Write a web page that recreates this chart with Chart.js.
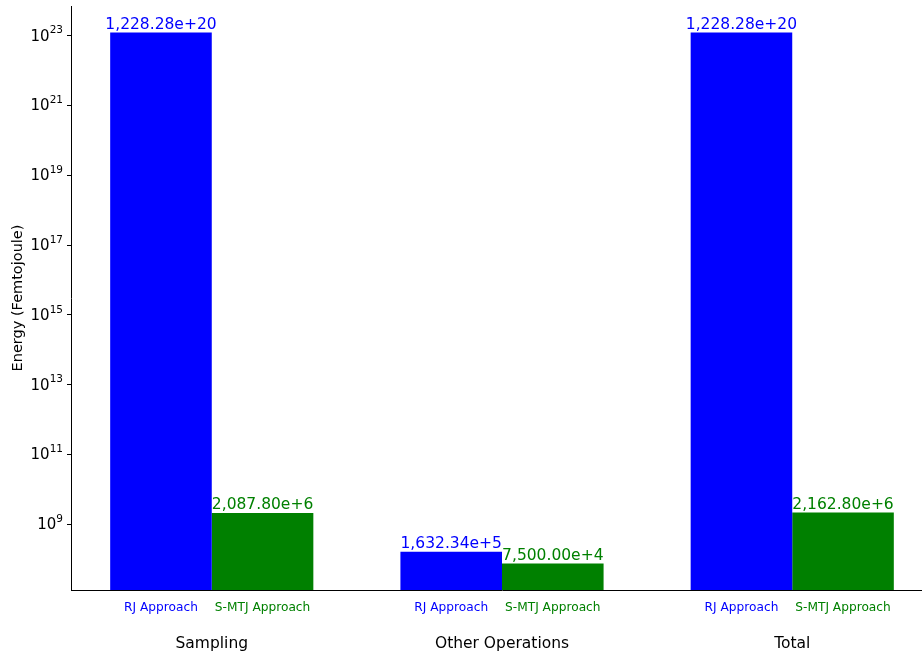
<!DOCTYPE html>
<html>
<head>
<meta charset="utf-8">
<script src="https://cdn.jsdelivr.net/npm/chart.js@4.4.1/dist/chart.umd.min.js"></script>
<style>
  html, body { margin: 0; padding: 0; background: #fff; overflow: hidden; }
  #wrap { width: 940px; height: 655px; }
</style>
</head>
<body>
<div id="wrap"><canvas id="energyChart"></canvas></div>
<script>
// data
const categories = ["Sampling", "Other Operations", "Total"];
const seriesNames = ["RJ Approach", "S-MTJ Approach"];
const rjValues = [1.22828e23, 1.63234e8, 1.22828e23];
const smtjValues = [2.0878e9, 7.5e7, 2.1628e9];
const yTickExponents = [9, 11, 13, 15, 17, 19, 21, 23];

const BLUE = "#0000ff";
const GREEN = "#008000";
const FONT = "'DejaVu Sans', sans-serif";

// 1228.28e20 style label
function valueLabel(v) {
    const exp = Math.floor(Math.log10(v)) - 3;
    const mant = v / Math.pow(10, exp);
    return mant.toLocaleString("en-US", { minimumFractionDigits: 2, maximumFractionDigits: 2 }) + "e+" + exp;
}

const labelPlugin = {
    id: "labelPlugin",
    afterDatasetsDraw(chart) {
        const ctx = chart.ctx;
        const xs = chart.scales.x;
        const ys = chart.scales.y;
        const area = chart.chartArea;
        ctx.save();
        ctx.textAlign = "center";

        // value labels above bars
        chart.data.datasets.forEach((ds, di) => {
            const meta = chart.getDatasetMeta(di);
            meta.data.forEach((bar, i) => {
                ctx.font = "15.5px " + FONT;
                ctx.fillStyle = ds.backgroundColor;
                ctx.textBaseline = "bottom";
                ctx.fillText(valueLabel(ds.data[i].y), bar.x, bar.y);
                // approach label under each bar
                ctx.font = "12.2px " + FONT;
                ctx.textBaseline = "middle";
                ctx.fillText(seriesNames[di], bar.x, area.bottom + 18);
            });
        });

        // category names
        ctx.font = "15.5px " + FONT;
        ctx.fillStyle = "#000";
        ctx.textBaseline = "middle";
        categories.forEach((c, i) => {
            ctx.fillText(c, xs.getPixelForValue(i), 644);
        });

        // y tick labels 10^n
        yTickExponents.forEach(e => {
            const y = ys.getPixelForValue(Math.pow(10, e));
            const right = area.left - 8;
            ctx.font = "10.5px " + FONT;
            const ew = ctx.measureText(String(e)).width;
            ctx.textAlign = "right";
            ctx.fillText(String(e), right, y - 5);
            ctx.font = "15px " + FONT;
            ctx.fillText("10", right - ew, y + 1);
        });

        // y axis title
        ctx.textAlign = "center";
        ctx.translate(18, (area.top + area.bottom) / 2);
        ctx.rotate(-Math.PI / 2);
        ctx.font = "14.5px " + FONT;
        ctx.fillText("Energy (Femtojoule)", 0, 0);
        ctx.restore();
    }
};

const energyChart = new Chart(document.getElementById("energyChart"), {
    type: "bar",
    data: {
        datasets: [
            {
                label: seriesNames[0],
                data: categories.map((c, i) => ({ x: i, y: rjValues[i] })),
                backgroundColor: BLUE,
            },
            {
                label: seriesNames[1],
                data: categories.map((c, i) => ({ x: i, y: smtjValues[i] })),
                backgroundColor: GREEN,
            },
        ],
    },
    options: {
        responsive: true,
        maintainAspectRatio: false,
        animation: false,
        categoryPercentage: 0.7,
        barPercentage: 1.0,
        layout: { padding: { left: 0, top: 6, right: 7, bottom: 0 } },
        plugins: {
            legend: { display: false },
            tooltip: { enabled: false },
        },
        scales: {
            x: {
                type: "linear",
                offset: false,
                min: -0.485,
                max: 2.485,
                grid: { display: false, drawTicks: false },
                border: { display: true, color: "#000", width: 1 },
                afterBuildTicks(scale) { scale.ticks = []; },
                afterFit(scale) { scale.height = 65; },
                ticks: { display: false },
            },
            y: {
                type: "logarithmic",
                min: Math.pow(10, 7.115),
                max: Math.pow(10, 23.85),
                grid: { drawOnChartArea: false, drawTicks: true, tickLength: 4, color: "#000" },
                border: { display: true, color: "#000", width: 1 },
                afterBuildTicks(scale) {
                    scale.ticks = yTickExponents.map(e => ({ value: Math.pow(10, e) }));
                },
                afterFit(scale) {
                    scale.width = 71;
                    scale.paddingTop = 0;
                    scale.paddingBottom = 0;
                },
                ticks: { display: true, color: "rgba(0,0,0,0)", callback: () => "" },
            },
        },
    },
    plugins: [labelPlugin],
});
</script>
</body>
</html>
